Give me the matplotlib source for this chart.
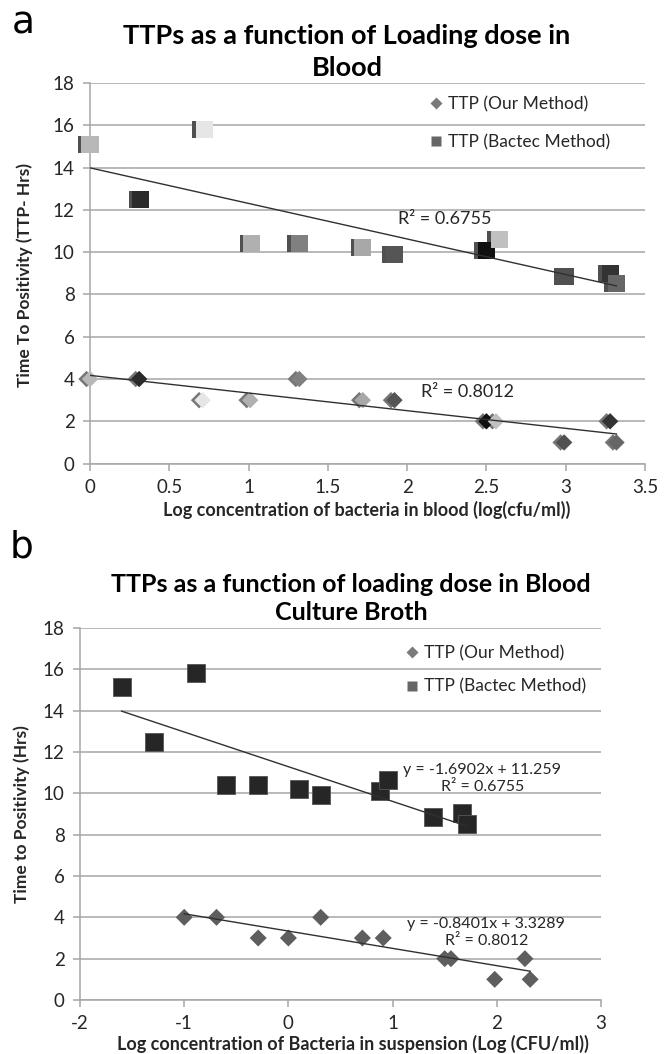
import numpy as np
import matplotlib
matplotlib.use('Agg')
import matplotlib.pyplot as plt
from matplotlib.lines import Line2D
from matplotlib.transforms import offset_copy

plt.rcParams['font.family'] = ['Lato', 'DejaVu Sans']

# ---- panel a: blood ----
a_x_bactec = [0.0, 0.32, 0.72, 1.02, 1.32, 1.72, 1.92, 2.50, 2.58, 3.00, 3.28, 3.32]
a_y_bactec = [15.1, 12.5, 15.8, 10.4, 10.4, 10.2, 9.9, 10.1, 10.6, 8.85, 9.0, 8.5]
a_x_our = [0.0, 0.31, 0.71, 1.01, 1.32, 1.72, 1.92, 2.50, 2.56, 2.99, 3.28, 3.32]
a_y_our = [4, 4, 3, 3, 4, 3, 3, 2, 2, 1, 2, 1]
# Excel "vary colors by point" faces
a_point_colors = ['#b8b8b8', '#2a2a2a', '#e6e6e6', '#b0b0b0', '#808080', '#a8a8a8',
                  '#555555', '#101010', '#c0c0c0', '#505050', '#333333', '#666666']
a_r2_bactec = 'R² = 0.6755'
a_r2_our = 'R² = 0.8012'

# ---- panel b: blood culture broth ----
b_x_bactec = [-1.60, -1.29, -0.89, -0.60, -0.29, 0.10, 0.31, 0.88, 0.96, 1.39, 1.67, 1.71]
b_y_bactec = [15.15, 12.5, 15.8, 10.4, 10.4, 10.2, 9.9, 10.1, 10.65, 8.87, 9.05, 8.5]
b_x_our = [-1.0, -0.69, -0.29, 0.0, 0.31, 0.71, 0.91, 1.50, 1.56, 1.98, 2.27, 2.32]
b_y_our = [4, 4, 3, 3, 4, 3, 3, 2, 2, 1, 2, 1]
b_eq_bactec = 'y = -1.6902x + 11.259\nR² = 0.6755'
b_eq_our = 'y = -0.8401x + 3.3289\nR² = 0.8012'

labels = ['TTP (Our Method)', 'TTP (Bactec Method)']

W, H = 669, 1054
fig = plt.figure(figsize=(W / 100, H / 100), dpi=100)

grid_c = '#a6a6a6'
txt_c = '#262626'


def px_axes(l, t, r, b):
    return fig.add_axes([l / W, 1 - b / H, (r - l) / W, (b - t) / H])


def style_axes(ax, xlim, xticks, xtl):
    ax.set_xlim(*xlim)
    ax.set_ylim(0, 18)
    ax.set_yticks(range(0, 19, 2))
    ax.set_xticks(xticks)
    ax.set_xticklabels(xtl)
    ax.yaxis.grid(True, color=grid_c, lw=1.1)
    ax.set_axisbelow(True)
    for s in ['top', 'right']:
        ax.spines[s].set_visible(False)
    for s in ['left', 'bottom']:
        ax.spines[s].set_color(grid_c)
        ax.spines[s].set_linewidth(1.1)
    ax.tick_params(axis='both', colors=grid_c, labelcolor=txt_c, labelsize=13.5,
                   length=5, width=1.1, direction='out')
    ax.tick_params(axis='y', pad=6)
    ax.tick_params(axis='x', pad=6)


def trend(ax, x, y):
    k, c = np.polyfit(x, y, 1)
    xs = np.array([min(x), max(x)])
    ax.plot(xs, k * xs + c, color='#303030', lw=1.0, zorder=4)


def legend(ax, x0, y0, spacing):
    handles = [Line2D([0], [0], marker='D', color='none', markerfacecolor='#7a7a7a',
                      markeredgecolor='none', markersize=6.5),
               Line2D([0], [0], marker='s', color='none', markerfacecolor='#666666',
                      markeredgecolor='none', markersize=7.5)]
    ax.legend(handles, labels, loc='upper left', bbox_to_anchor=(x0 / W, 1 - y0 / H),
              bbox_transform=fig.transFigure, frameon=False, fontsize=12.5,
              handlelength=0.7, handletextpad=0.35, borderpad=0, borderaxespad=0,
              labelspacing=spacing, labelcolor=txt_c)


# ================= panel a =================
ax1 = px_axes(90, 83, 645, 463.6)
style_axes(ax1, (0, 3.5), np.arange(0, 3.51, 0.5), ['0', '0.5', '1', '1.5', '2', '2.5', '3', '3.5'])
shadow = offset_copy(ax1.transData, fig=fig, x=-3.5, y=0, units='dots')
ax1.scatter(a_x_bactec, a_y_bactec, marker='s', s=150, c='#505050', edgecolors='none',
            transform=shadow, zorder=3, clip_on=False)
ax1.scatter(a_x_bactec, a_y_bactec, marker='s', s=150, c=a_point_colors, edgecolors='none',
            zorder=3, clip_on=False)
ax1.scatter(a_x_our, a_y_our, marker='D', s=70, c='#767676', edgecolors='none',
            transform=shadow, zorder=3, clip_on=False)
ax1.scatter(a_x_our, a_y_our, marker='D', s=70, c=a_point_colors, edgecolors='none',
            zorder=3, clip_on=False)
trend(ax1, a_x_bactec, a_y_bactec)
trend(ax1, a_x_our, a_y_our)
ax1.text(1.94, 11.55, a_r2_bactec, fontsize=13, color=txt_c, va='center', ha='left', zorder=5)
ax1.text(2.09, 3.4, a_r2_our, fontsize=13, color=txt_c, va='center', ha='left', zorder=5)
legend(ax1, 430, 96, 1.25)

fig.text(347 / W, 1 - 52 / H, 'TTPs as a function of Loading dose in\nBlood', ha='center',
         va='center', fontsize=19.5, fontweight='bold', color='black', linespacing=1.45)
fig.text(367 / W, 1 - 510 / H, 'Log concentration of bacteria in blood (log(cfu/ml))',
         ha='center', va='center', fontsize=13, fontweight='bold', color=txt_c)
fig.text(25 / W, 1 - 275 / H, 'Time To Positivity (TTP- Hrs)', ha='center', va='center',
         rotation=90, fontsize=12.5, fontweight='bold', color=txt_c)
fig.text(12 / W, 1 - 24 / H, 'a', ha='left', va='center', fontsize=27,
         family='DejaVu Sans', color='black')

# ================= panel b =================
ax2 = px_axes(80, 628, 601, 1000)
style_axes(ax2, (-2, 3), range(-2, 4), ['-2', '-1', '0', '1', '2', '3'])
ax2.scatter(b_x_bactec, b_y_bactec, marker='s', s=150, c='#262626', edgecolors='#555555',
            linewidths=0.6, zorder=3, clip_on=False)
ax2.scatter(b_x_our, b_y_our, marker='D', s=75, c='#5e5e5e', edgecolors='none',
            zorder=3, clip_on=False)
trend(ax2, b_x_bactec, b_y_bactec)
trend(ax2, b_x_our, b_y_our)
ax2.text(1.86, 10.7, b_eq_bactec, fontsize=11.5, color=txt_c, va='center', ha='center',
         linespacing=1.25, zorder=5)
ax2.text(1.9, 3.28, b_eq_our, fontsize=11.5, color=txt_c, va='center', ha='center',
         linespacing=1.25, zorder=5)
legend(ax2, 406, 645, 1.0)

fig.text(351 / W, 1 - 598.5 / H, 'TTPs as a function of loading dose in Blood\nCulture Broth',
         ha='center', va='center', fontsize=18, fontweight='bold', color='black',
         linespacing=1.25)
fig.text(353 / W, 1 - 1044 / H, 'Log concentration of Bacteria in suspension (Log (CFU/ml))',
         ha='center', va='center', fontsize=13, fontweight='bold', color=txt_c)
fig.text(22 / W, 1 - 814 / H, 'Time to Positivity (Hrs)', ha='center', va='center',
         rotation=90, fontsize=12.5, fontweight='bold', color=txt_c)
fig.text(10 / W, 1 - 548 / H, 'b', ha='left', va='center', fontsize=27,
         family='DejaVu Sans', color='black')

fig.savefig('out.png', dpi=100)
